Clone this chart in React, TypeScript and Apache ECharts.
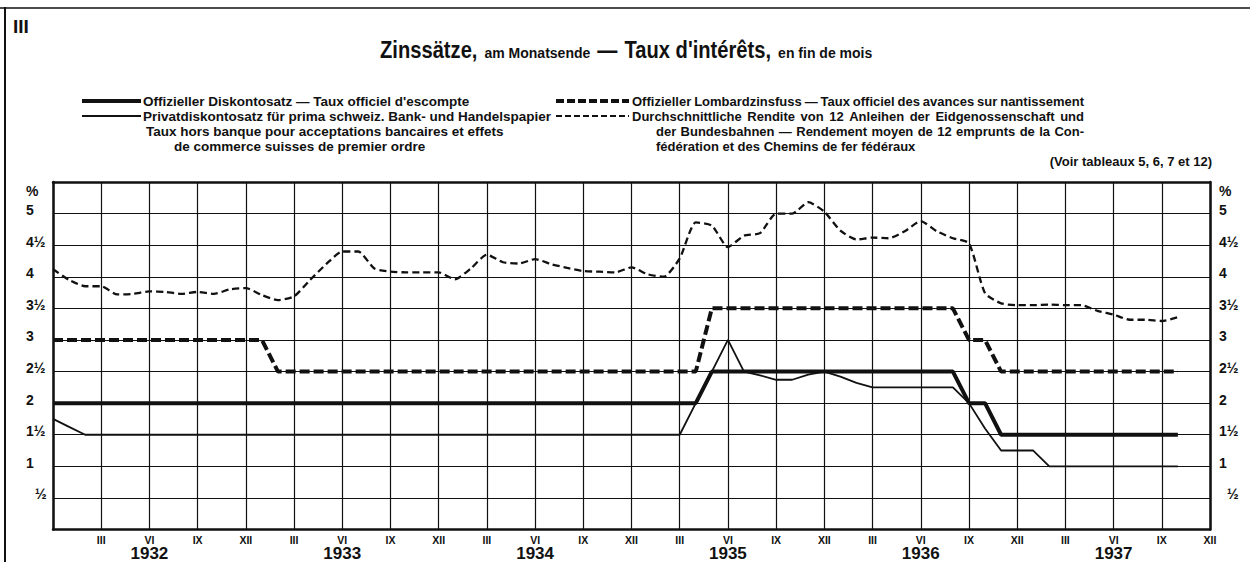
import React, { useEffect, useRef } from "react";
import * as echarts from "echarts";

// Month index 0 = end of Dec 1931 ... 72 = end of Dec 1937 (monthly values at month ends)
const discountRate = [
  2, 2, 2, 2, 2, 2, 2, 2, 2, 2,
  2, 2, 2, 2, 2, 2, 2, 2, 2, 2,
  2, 2, 2, 2, 2, 2, 2, 2, 2, 2,
  2, 2, 2, 2, 2, 2, 2, 2, 2, 2,
  2, 2.5, 2.5, 2.5, 2.5, 2.5, 2.5, 2.5, 2.5, 2.5,
  2.5, 2.5, 2.5, 2.5, 2.5, 2.5, 2.5, 2, 2, 1.5,
  1.5, 1.5, 1.5, 1.5, 1.5, 1.5, 1.5, 1.5, 1.5, 1.5,
  1.5,
];
const lombardRate = [
  3, 3, 3, 3, 3, 3, 3, 3, 3, 3,
  3, 3, 3, 3, 2.5, 2.5, 2.5, 2.5, 2.5, 2.5,
  2.5, 2.5, 2.5, 2.5, 2.5, 2.5, 2.5, 2.5, 2.5, 2.5,
  2.5, 2.5, 2.5, 2.5, 2.5, 2.5, 2.5, 2.5, 2.5, 2.5,
  2.5, 3.5, 3.5, 3.5, 3.5, 3.5, 3.5, 3.5, 3.5, 3.5,
  3.5, 3.5, 3.5, 3.5, 3.5, 3.5, 3.5, 3, 3, 2.5,
  2.5, 2.5, 2.5, 2.5, 2.5, 2.5, 2.5, 2.5, 2.5, 2.5,
  2.5,
];
const privateRate = [
  1.75, 1.625, 1.5, 1.5, 1.5, 1.5, 1.5, 1.5, 1.5, 1.5,
  1.5, 1.5, 1.5, 1.5, 1.5, 1.5, 1.5, 1.5, 1.5, 1.5,
  1.5, 1.5, 1.5, 1.5, 1.5, 1.5, 1.5, 1.5, 1.5, 1.5,
  1.5, 1.5, 1.5, 1.5, 1.5, 1.5, 1.5, 1.5, 1.5, 1.5,
  2.0, 2.5, 3.0, 2.5, 2.44, 2.37, 2.37, 2.45, 2.5, 2.42,
  2.32, 2.25, 2.25, 2.25, 2.25, 2.25, 2.25, 2.0, 1.6, 1.25,
  1.25, 1.25, 1.0, 1.0, 1.0, 1.0, 1.0, 1.0, 1.0, 1.0,
  1.0,
];
const bondYield = [
  4.12, 3.95, 3.85, 3.85, 3.72, 3.73, 3.77, 3.76, 3.73, 3.76,
  3.73, 3.8, 3.82, 3.71, 3.63, 3.69, 3.95, 4.2, 4.4, 4.4,
  4.13, 4.08, 4.07, 4.07, 4.07, 3.96, 4.13, 4.35, 4.23, 4.21,
  4.28, 4.2, 4.14, 4.09, 4.08, 4.07, 4.15, 4.04, 4.0, 4.29,
  4.86, 4.81, 4.47, 4.65, 4.69, 5.0, 5.0, 5.18, 5.03, 4.73,
  4.59, 4.62, 4.61, 4.72, 4.88, 4.72, 4.61, 4.53, 3.74, 3.58,
  3.55, 3.55, 3.56, 3.55, 3.55, 3.46, 3.4, 3.32, 3.32, 3.3,
  3.36,
];

const monthNumerals: Record<number, string> = { 0: "XII", 3: "III", 6: "VI", 9: "IX" };
const yearLabels = ["1932", "1933", "1934", "1935", "1936", "1937"];
const yTickLabels: Record<string, string> = {
  "0.5": "½", "1": "1", "1.5": "1½", "2": "2", "2.5": "2½", "3": "3",
  "3.5": "3½", "4": "4", "4.5": "4½", "5": "5", "5.5": "%",
};

const titleParts = ["Zinssätze,", "am Monatsende", "—", "Taux d'intérêts,", "en fin de mois"];
const titleIsLarge = [true, false, true, true, false];
const legendLeftTexts = [
  "Offizieller Diskontosatz — Taux officiel d'escompte",
  "Privatdiskontosatz für prima schweiz. Bank- und Handelspapier",
  "Taux hors banque pour acceptations bancaires et effets",
  "de commerce suisses de premier ordre",
];
const legendRightTexts = [
  "Offizieller Lombardzinsfuss — Taux officiel des avances sur nantissement",
  "Durchschnittliche Rendite von 12 Anleihen der Eidgenossenschaft und",
  "der Bundesbahnen — Rendement moyen de 12 emprunts de la Con-",
  "fédération et des Chemins de fer fédéraux",
];
const sourceNote = "(Voir tableaux 5, 6, 7 et 12)";
const plateNumber = "III";

const INK = "#111111";
const FONT = "'Liberation Sans', Arial, sans-serif";

const toPairs = (arr: number[]) => arr.map((v, i) => [i, v]);

function yLabelFormatter(v: number) {
  const key = String(v);
  const t = yTickLabels[key];
  if (!t) return "";
  if (key === "5.5") return `{p|${t}}`;
  if (key === "0.5") return `{h|${t}}`;
  return `{n|${t}}`;
}

const measureCtx = (() => {
  const c = document.createElement("canvas");
  return c.getContext("2d")!;
})();
function textWidth(text: string, size: number, weight: string) {
  measureCtx.font = `${weight} ${size}px ${FONT}`;
  return measureCtx.measureText(text).width;
}

// Justified text row (block-set like the printed legend): one text element per word.
function justifiedRow(text: string, x0: number, x1: number, y: number, size: number, weight: string) {
  const words = text.split(" ");
  const widths = words.map((w) => textWidth(w, size, weight));
  const total = widths.reduce((a, b) => a + b, 0);
  const gap = words.length > 1 ? (x1 - x0 - total) / (words.length - 1) : 0;
  let x = x0;
  return words.map((w, i) => {
    const el = {
      type: "text",
      x, y,
      style: { text: w, fontSize: size, fontWeight: weight, fontFamily: FONT, fill: INK, verticalAlign: "middle" },
    };
    x += widths[i] + gap;
    return el;
  });
}

// Title: large condensed words mixed with small words, sharing a common bottom line.
function titleRow(x0: number, bottom: number) {
  const big = 24, small = 14, squeeze = 0.84, gap = 7;
  let x = x0;
  return titleParts.map((t, i) => {
    const large = titleIsLarge[i];
    const size = large ? big : small;
    const sx = large ? squeeze : 1;
    const w = textWidth(t, size, "bold") * sx;
    const el = {
      type: "text",
      x, y: large ? bottom : bottom - 2, scaleX: sx,
      style: { text: t, fontSize: size, fontWeight: "bold", fontFamily: FONT, fill: INK, verticalAlign: "bottom" },
    };
    x += w + gap;
    return el;
  });
}

export default function App() {
  const ref = useRef<HTMLDivElement>(null);
  useEffect(() => {
    if (!ref.current) return;
    const chart = echarts.init(ref.current, undefined, { renderer: "svg" });
    const yRich = (fracPad: number) => ({
      n: { fontSize: 14, fontWeight: "bold", color: INK, fontFamily: FONT, padding: [0, 0, 7, 0] },
      h: { fontSize: 14, fontWeight: "bold", color: INK, fontFamily: FONT, padding: [0, 0, 7, fracPad] },
      p: { fontSize: 14, fontWeight: "bold", color: INK, fontFamily: FONT, padding: [18, 0, 0, 0] },
    });
    const LW = "bold";
    const legendText = (x: number, y: number, text: string, size: number) => ({
      type: "text",
      x, y,
      style: { text, fontSize: size, fontWeight: LW, fontFamily: FONT, fill: INK, verticalAlign: "middle" },
    });
    const option: any = {
      animation: false,
      backgroundColor: "#ffffff",
      textStyle: { fontFamily: FONT, color: INK },
      grid: { left: 53, right: 40, top: 182, bottom: 29, containLabel: false },
      xAxis: [
        {
          type: "value", min: 0, max: 72, interval: 3,
          axisLine: { show: true, onZero: false, lineStyle: { color: INK, width: 2.5 } },
          axisTick: { show: false },
          splitLine: { show: true, lineStyle: { color: INK, width: 1.2 } },
          axisLabel: {
            margin: 5,
            showMinLabel: true, showMaxLabel: true,
            formatter: (v: number) => {
              if (v <= 0) return "";
              const mi = v % 12;
              const m = monthNumerals[mi];
              if (mi === 6) return `{m|${m}}\n{y|${yearLabels[Math.floor(v / 12)]}}`;
              return `{m|${m}}`;
            },
            rich: {
              m: { fontSize: 10.5, fontWeight: "bold", color: INK, fontFamily: FONT, lineHeight: 11 },
              y: { fontSize: 17, fontWeight: "bold", color: INK, fontFamily: FONT, lineHeight: 16 },
            },
          },
        },
        {
          type: "value", min: 0, max: 72, position: "top",
          axisLine: { show: true, onZero: false, lineStyle: { color: INK, width: 2.5 } },
          axisTick: { show: false }, axisLabel: { show: false }, splitLine: { show: false },
        },
      ],
      yAxis: [
        {
          type: "value", min: 0, max: 5.5, interval: 0.5, position: "left",
          axisLine: { show: true, onZero: false, lineStyle: { color: INK, width: 2.5 } },
          axisTick: { show: false },
          splitLine: { show: true, lineStyle: { color: INK, width: 1 } },
          axisLabel: { align: "left", margin: 27, formatter: yLabelFormatter, rich: yRich(9) },
        },
        {
          type: "value", min: 0, max: 5.5, interval: 0.5, position: "right",
          axisLine: { show: true, onZero: false, lineStyle: { color: INK, width: 2.5 } },
          axisTick: { show: false },
          splitLine: { show: false },
          axisLabel: { align: "left", margin: 9, formatter: yLabelFormatter, rich: yRich(8) },
        },
      ],
      series: [
        {
          name: "Offizieller Diskontosatz", type: "line", data: toPairs(discountRate),
          showSymbol: false, lineStyle: { color: INK, width: 4 }, z: 5,
        },
        {
          name: "Offizieller Lombardzinsfuss", type: "line", data: toPairs(lombardRate),
          showSymbol: false, lineStyle: { color: INK, width: 4, type: [10, 4] }, z: 5,
        },
        {
          name: "Privatdiskontosatz", type: "line", data: toPairs(privateRate),
          showSymbol: false, lineStyle: { color: INK, width: 1.8 }, z: 6,
        },
        {
          name: "Durchschnittliche Rendite", type: "line", data: toPairs(bondYield),
          showSymbol: false, smooth: 0.2, lineStyle: { color: INK, width: 2.3, type: [7, 4] }, z: 6,
        },
      ],
      graphic: [
        { type: "line", shape: { x1: 0, y1: 8, x2: 1250, y2: 8 }, style: { stroke: INK, lineWidth: 1.5 } },
        { type: "line", shape: { x1: 5, y1: 7, x2: 5, y2: 562 }, style: { stroke: INK, lineWidth: 2 } },
        {
          type: "text", x: 13, y: 26,
          style: { text: plateNumber, fontSize: 19, fontWeight: "bold", fontFamily: FONT, fill: INK, verticalAlign: "middle" },
        },
        ...titleRow(380, 62),
        // left legend
        { type: "line", shape: { x1: 82, y1: 101, x2: 141, y2: 101 }, style: { stroke: INK, lineWidth: 4 } },
        legendText(143, 101, legendLeftTexts[0], 13.5),
        { type: "line", shape: { x1: 82, y1: 116, x2: 141, y2: 116 }, style: { stroke: INK, lineWidth: 1.8 } },
        legendText(143, 116, legendLeftTexts[1], 13.5),
        legendText(146, 131, legendLeftTexts[2], 13.5),
        legendText(174, 146, legendLeftTexts[3], 13.5),
        // right legend (justified block)
        { type: "line", shape: { x1: 556, y1: 101, x2: 629, y2: 101 }, style: { stroke: INK, lineWidth: 4, lineDash: [8, 3] } },
        ...justifiedRow(legendRightTexts[0], 632, 1084, 101, 13, LW),
        { type: "line", shape: { x1: 556, y1: 116, x2: 629, y2: 116 }, style: { stroke: INK, lineWidth: 2, lineDash: [6, 3] } },
        ...justifiedRow(legendRightTexts[1], 632, 1084, 116, 13, LW),
        ...justifiedRow(legendRightTexts[2], 656, 1084, 131, 13, LW),
        legendText(656, 146, legendRightTexts[3], 13),
        {
          type: "text", x: 1212, y: 161,
          style: { text: sourceNote, fontSize: 13, fontWeight: LW, fontFamily: FONT, fill: INK, align: "right", verticalAlign: "middle" },
        },
      ],
    };
    chart.setOption(option);
    return () => chart.dispose();
  }, []);
  return (
    <div
      ref={ref}
      style={{ position: "absolute", left: 0, top: 0, width: 1250, height: 562, background: "#fff" }}
    />
  );
}
